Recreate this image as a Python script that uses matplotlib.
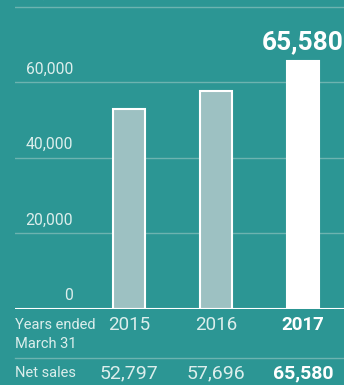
import matplotlib
matplotlib.use("Agg")
import matplotlib.pyplot as plt

plt.rcParams['font.family'] = ['Roboto', 'DejaVu Sans']

years = ["2015", "2016", "2017"]
net_sales = [52797, 57696, 65580]
value_labels = ["52,797", "57,696", "65,580"]
yticks = [0, 20000, 40000, 60000, 80000]
ytick_labels = ["0", "20,000", "40,000", "60,000", "80,000"]

BG = "#2C9694"
BAR = "#9DC1C2"
GRID = "#6DB3B0"
LIGHT = "#DCEEEC"

W, H = 344, 385
fig = plt.figure(figsize=(W / 100, H / 100), dpi=100, facecolor=BG)

def fx(px):
    return px / W

def fy(py):
    return 1 - py / H

ax = fig.add_axes([fx(15), fy(309), 1 - fx(15), 309 / H])
ax.set_facecolor(BG)
for s in ax.spines.values():
    s.set_visible(False)
ax.set_xticks([])
ax.set_yticks([])

xs = list(range(len(years)))
ax.set_xlim(-114 / 87, (344 - 129) / 87)
ax.set_ylim(0, 309 / 75.6 * 20000)

for t in yticks[1:]:
    ax.axhline(t, color=GRID, lw=1.0, zorder=1)
ax.axhline(0, color="white", lw=1.5, zorder=4)

colors = [BAR, BAR, "white"]
ax.bar(xs, net_sales, width=0.37, color=colors, edgecolor="white",
       linewidth=1.5, zorder=3)

# y tick labels (right aligned above gridlines)
for t, lab in zip(yticks, ytick_labels):
    ax.annotate(lab, xy=(fx(73), t), xycoords=('figure fraction', 'data'),
                xytext=(0, 4), textcoords='offset points',
                ha='right', va='bottom', color=LIGHT, fontsize=11.3,
                annotation_clip=False)

# highlight value on top of last bar
ax.annotate(value_labels[-1], xy=(xs[-1], net_sales[-1]),
            xytext=(0, 5), textcoords='offset points',
            ha='center', va='bottom', color='white', fontsize=19,
            fontweight='bold')

# bottom table
fig.text(fx(15), fy(325), "Years ended", ha='left', va='center',
         color=LIGHT, fontsize=10.5)
fig.text(fx(15), fy(344), "March 31", ha='left', va='center',
         color=LIGHT, fontsize=10.5)
fig.text(fx(15), fy(373), "Net sales", ha='left', va='center',
         color=LIGHT, fontsize=10.5)

for i, (yr, vl) in enumerate(zip(years, value_labels)):
    last = i == len(years) - 1
    ax.annotate(yr, xy=(xs[i], fy(325)), xycoords=('data', 'figure fraction'),
                ha='center', va='center', color='white' if last else LIGHT,
                fontsize=13.5, fontweight='bold' if last else 'normal',
                annotation_clip=False)
    ax.annotate(vl, xy=(xs[i], fy(373.5)), xycoords=('data', 'figure fraction'),
                ha='center', va='center', color='white' if last else LIGHT,
                fontsize=14, fontweight='bold' if last else 'normal',
                annotation_clip=False)

fig.add_artist(plt.Line2D([fx(15), 1], [fy(358), fy(358)],
                          color=GRID, lw=1.0, transform=fig.transFigure))

fig.savefig("out.png", dpi=100, facecolor=BG)
